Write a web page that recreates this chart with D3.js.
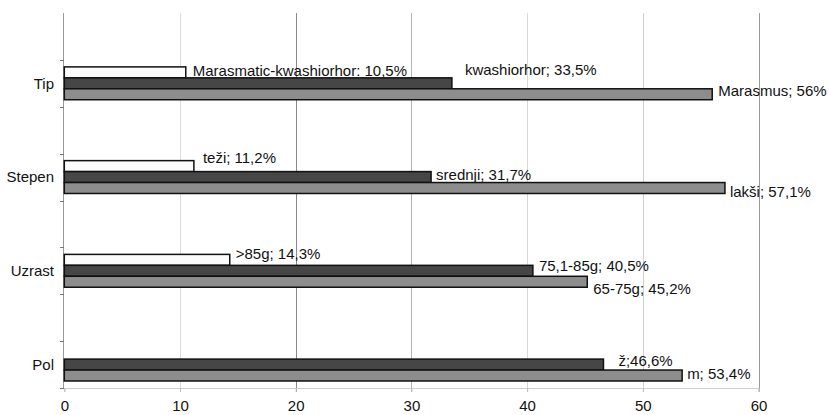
<!DOCTYPE html>
<html>
<head>
<meta charset="utf-8">
<script src="https://cdn.jsdelivr.net/npm/d3@7"></script>
<style>
  html, body { margin: 0; padding: 0; background: #fff; }
  svg { display: block; font-family: "Liberation Sans", Arial, sans-serif; }
</style>
</head>
<body>
<svg id="chart" width="829" height="415"></svg>
<script>
// Category rows (top to bottom); blank rows separate the groups
const rows = ["", "Tip", "", "Stepen", "", "Uzrast", "", "Pol"];
const categories = ["Tip", "Stepen", "Uzrast", "Pol"];
const seriesKeys = ["s1", "s2", "s3"];

// Percent values per series (s1 = light bar, s2 = dark bar, s3 = grey bar)
const s1Values = [10.5, 11.2, 14.3, null];
const s2Values = [33.5, 31.7, 40.5, 46.6];
const s3Values = [56.0, 57.1, 45.2, 53.4];

// Data label texts
const s1Labels = ["Marasmatic-kwashiorhor: 10,5%", "teži; 11,2%", ">85g; 14,3%", null];
const s2Labels = ["kwashiorhor; 33,5%", "srednji; 31,7%", "75,1-85g; 40,5%", "ž;46,6%"];
const s3Labels = ["Marasmus; 56%", "lakši; 57,1%", "65-75g; 45,2%", "m; 53,4%"];

const xTicks = [0, 10, 20, 30, 40, 50, 60];

// Styling / layout (kept apart from the data)
const FONT = 15;
const fills = { s1: "#fbfbfb", s2: "#464646", s3: "#8d8d8d" };
const gridColors = { 10: "#dcdcdc", 20: "#8a8a8a", 30: "#b4b4b4", 40: "#d8d8d8", 50: "#cfcfcf", 60: "#9a9a9a" };
// hand-placed label nudges [dx, dy] relative to bar end / bar middle
const labelNudge = {
  s1: [[7, -1.5], [9, -8], [6, -6], [0, 0]],
  s2: [[13, -13.5], [5, -2], [6, -5], [15, -4]],
  s3: [[6, -4], [5, 4], [6, 6.5], [5, -1.5]]
};

const svg = d3.select("#chart");
const margin = { left: 64.3, right: 829 - 758.5, top: 13, bottom: 415 - 388 };
const W = 829, H = 415;

const x = d3.scaleLinear().domain([0, 60]).range([margin.left, W - margin.right]);
const y0 = d3.scaleBand().domain(d3.range(rows.length)).range([margin.top, H - margin.bottom]);
const y1 = d3.scaleBand().domain(seriesKeys).range([0, y0.bandwidth()]).paddingOuter(0.64);

const seriesValues = { s1: s1Values, s2: s2Values, s3: s3Values };
const seriesLabels = { s1: s1Labels, s2: s2Labels, s3: s3Labels };

// vertical gridlines
svg.append("g").selectAll("line")
  .data(xTicks.filter(t => t > 0))
  .join("line")
  .attr("x1", d => Math.round(x(d)) + 0.5).attr("x2", d => Math.round(x(d)) + 0.5)
  .attr("y1", margin.top).attr("y2", H - margin.bottom + 4)
  .attr("stroke", d => gridColors[d]).attr("stroke-width", 1);

// bottom axis
const xAxis = d3.axisBottom(x).tickValues(xTicks).tickSize(4).tickPadding(8).tickFormat(d3.format("d"));
const gx = svg.append("g").attr("transform", `translate(0,${H - margin.bottom})`).call(xAxis);
gx.select(".domain").attr("stroke", "#cfcfcf");
gx.selectAll(".tick line").attr("stroke", "#bdbdbd");
gx.selectAll("text").attr("font-size", FONT).attr("fill", "#111").attr("font-family", "Liberation Sans, Arial, sans-serif");

// left axis with ticks at row boundaries
const boundaries = d3.range(rows.length + 1).map(i => margin.top + i * y0.step());
svg.append("line")
  .attr("x1", Math.round(margin.left) - 0.5).attr("x2", Math.round(margin.left) - 0.5)
  .attr("y1", margin.top).attr("y2", H - margin.bottom)
  .attr("stroke", "#9a9a9a");
svg.append("g").selectAll("line")
  .data(boundaries.slice(1))
  .join("line")
  .attr("x1", Math.round(margin.left) - 4).attr("x2", Math.round(margin.left))
  .attr("y1", d => Math.round(d) + 0.5).attr("y2", d => Math.round(d) + 0.5)
  .attr("stroke", "#777");

// category labels
svg.append("g").selectAll("text")
  .data(rows.map((r, i) => ({ r, i })).filter(d => d.r))
  .join("text")
  .attr("x", 54)
  .attr("y", d => y0(d.i) + y0.bandwidth() / 2)
  .attr("dy", "0.35em")
  .attr("text-anchor", "end")
  .attr("font-size", FONT)
  .attr("fill", "#111")
  .text(d => d.r);

// bars and value labels
const rowOf = c => rows.indexOf(c);
const bars = [];
categories.forEach((c, ci) => {
  seriesKeys.forEach(k => {
    const v = seriesValues[k][ci];
    if (v == null) return;
    bars.push({ c, ci, k, v, label: seriesLabels[k][ci], nudge: labelNudge[k][ci] });
  });
});

const g = svg.append("g");
g.selectAll("rect")
  .data(bars)
  .join("rect")
  .attr("x", x(0))
  .attr("y", d => y0(rowOf(d.c)) + y1(d.k))
  .attr("width", d => x(d.v) - x(0))
  .attr("height", y1.bandwidth())
  .attr("fill", d => fills[d.k])
  .attr("stroke", "#111")
  .attr("stroke-width", 1.5);

g.selectAll("text")
  .data(bars)
  .join("text")
  .attr("x", d => x(d.v) + d.nudge[0])
  .attr("y", d => y0(rowOf(d.c)) + y1(d.k) + y1.bandwidth() / 2 + d.nudge[1])
  .attr("dy", "0.35em")
  .attr("font-size", FONT)
  .attr("fill", "#111")
  .text(d => d.label);
</script>
</body>
</html>
